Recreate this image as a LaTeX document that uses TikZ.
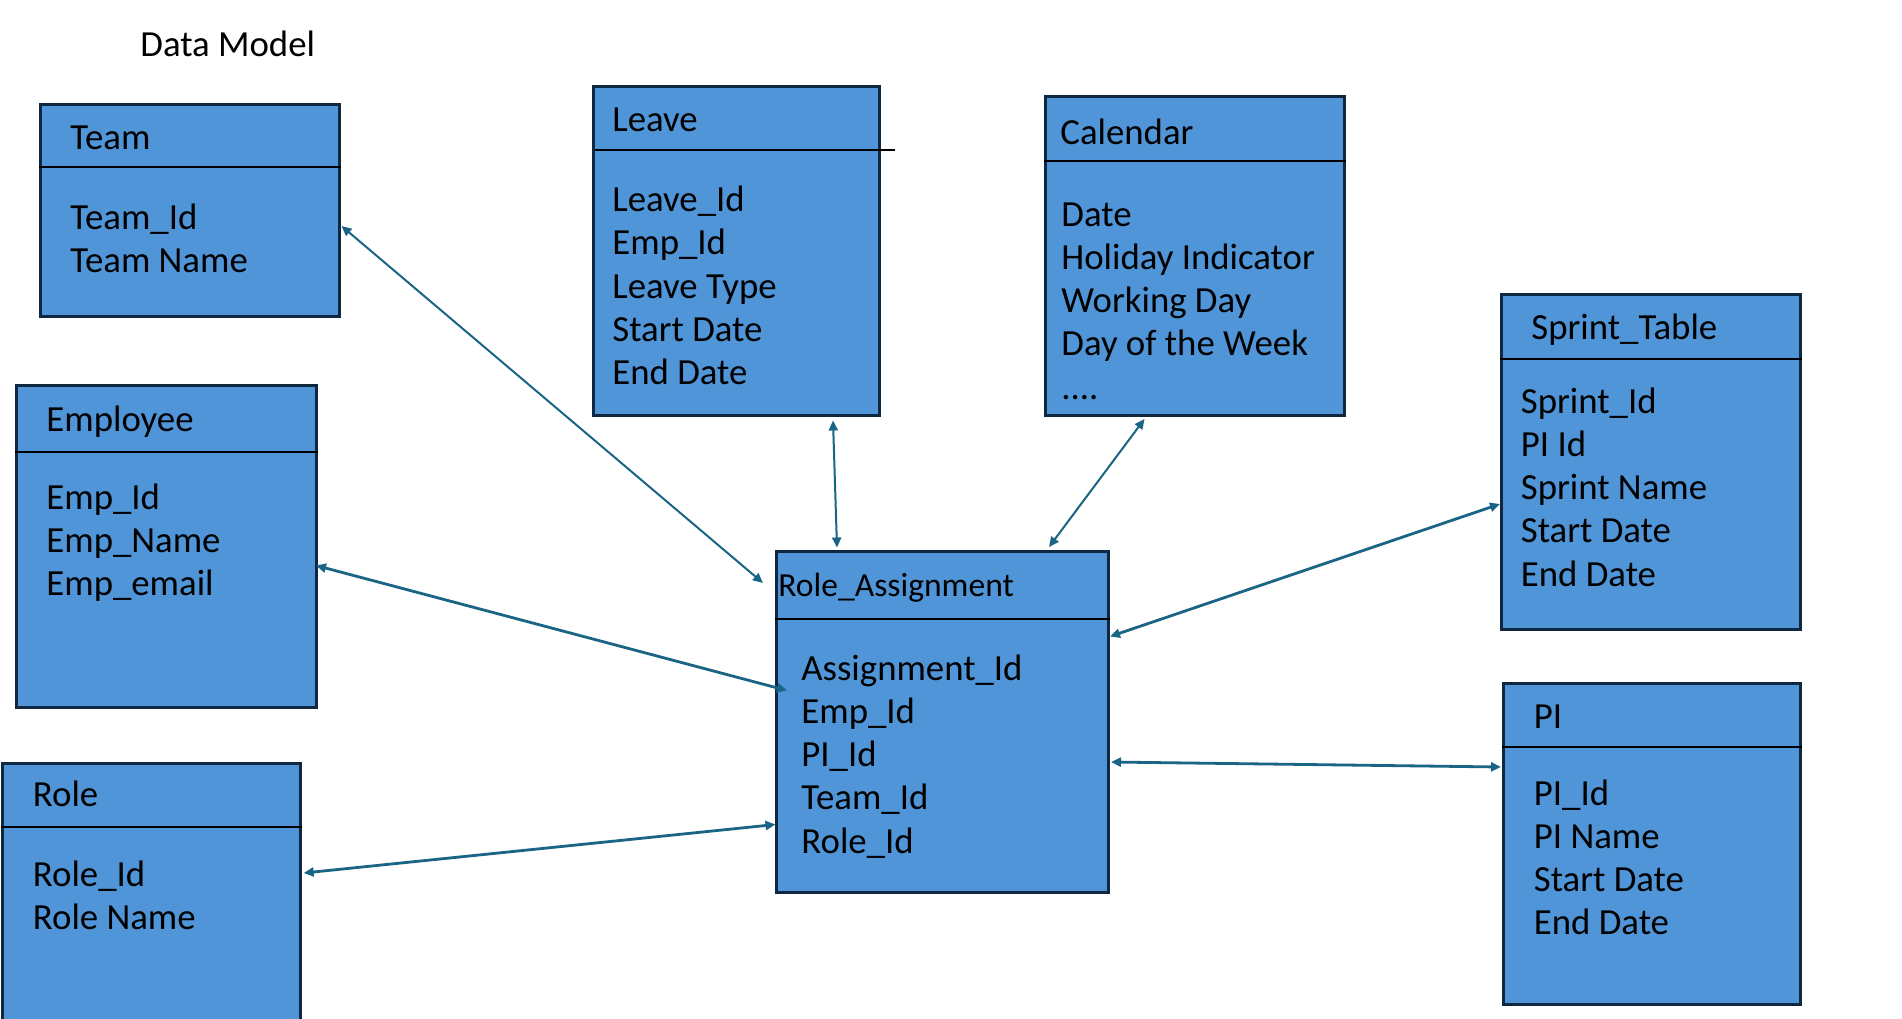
\documentclass[tikz,border=0pt]{standalone}
\usepackage{fontspec}
\setmainfont{Carlito}
\usetikzlibrary{arrows.meta,calc}
\definecolor{boxfill}{HTML}{4F95D8}
\definecolor{boxline}{HTML}{0E2841}
\definecolor{arrowc}{HTML}{1A6485}
\newcommand{\fourdots}{....}
\newcommand{\attrlist}[4]{%
  \foreach \t [count=\i] in {#4} {\node[attr] (#1-\i) at (#2,{#3+43.3*(\i-1)}) {\t};}}
\begin{document}
\begin{tikzpicture}[x=0.5pt,y=-0.5pt,
  tbl/.style={draw=boxline, fill=boxfill, line width=1.5pt, rectangle, inner sep=0pt, anchor=north west},
  divider/.style={draw=black, line width=1.1pt},
  attr/.style={anchor=base west, inner sep=0pt, font=\fontsize{18.4pt}{22pt}\selectfont},
  tabtitle/.style={attr},
  smalltitle/.style={attr, font=\fontsize{16.8pt}{20pt}\selectfont},
  conn/.style={draw=arrowc, line width=1pt, {Triangle[length=5pt,width=4.5pt]}-{Triangle[length=5pt,width=4.5pt]}},
  connthick/.style={conn, line width=1.4pt}]
\useasboundingbox (0,0) rectangle (1902,1018);
\clip (0,0) rectangle (1902,1018);
\fill[white] (0,0) rectangle (1902,1018);

\node[attr] (heading) at (140,56) {Data Model};

% Team
\node[tbl, minimum width=149.5pt, minimum height=106pt] (team) at (39,103) {};
\draw[divider] (team.west |- 0,167) -- (team.east |- 0,167);
\node[tabtitle] (team-t) at (70,149) {Team};
\attrlist{team}{70}{229}{Team\_Id, Team Name}

% Leave
\node[tbl, minimum width=143pt, minimum height=164.25pt] (leave) at (592,85) {};
\draw[divider] ($(leave.north west)+(3,65)$) -- ($(leave.north east)+(13.5,65)$);
\node[tabtitle] (leave-t) at (612,131) {Leave};
\attrlist{leave}{612}{211.5}{Leave\_Id, Emp\_Id, Leave Type, Start Date, End Date}

% Calendar
\node[tbl, minimum width=149.5pt, minimum height=159.5pt] (cal) at (1044,95) {};
\draw[divider] (cal.west |- 0,161) -- (cal.east |- 0,161);
\node[tabtitle] (cal-t) at (1060,144) {Calendar};
\attrlist{cal}{1061}{226}{Date, Holiday Indicator, Working Day, Day of the Week, \fourdots}

% Sprint_Table
\node[tbl, minimum width=149.25pt, minimum height=167.5pt] (sprint) at (1500,293) {};
\draw[divider] (sprint.west |- 0,359) -- (sprint.east |- 0,359);
\node[tabtitle] (sprint-t) at (1531,339) {Sprint\_Table};
\attrlist{sprint}{1520.5}{413}{Sprint\_Id, PI Id, Sprint Name, Start Date, End Date}

% Employee
\node[tbl, minimum width=149.75pt, minimum height=161pt] (emp) at (15,384) {};
\draw[divider] (emp.west |- 0,452) -- (emp.east |- 0,452);
\node[tabtitle] (emp-t) at (46,431) {Employee};
\attrlist{emp}{46}{509}{Emp\_Id, Emp\_Name, Emp\_email}

% Role_Assignment
\node[tbl, minimum width=166pt, minimum height=170.5pt] (ra) at (775,550) {};
\draw[divider] (ra.west |- 0,619) -- (ra.east |- 0,619);
\node[smalltitle] (ra-t) at (778,596) {Role\_Assignment};
\attrlist{ra}{801}{680}{Assignment\_Id, Emp\_Id, PI\_Id, Team\_Id, Role\_Id}

% Role (runs off the bottom edge)
\node[tbl, minimum width=149pt, minimum height=140pt] (role) at (1,762) {};
\draw[divider] (role.west |- 0,827) -- (role.east |- 0,827);
\node[tabtitle] (role-t) at (32.5,806.5) {Role};
\attrlist{role}{32.5}{886.5}{Role\_Id, Role Name}

% PI
\node[tbl, minimum width=148.5pt, minimum height=160.5pt] (pi) at (1502,682) {};
\draw[divider] (pi.west |- 0,747) -- (pi.east |- 0,747);
\node[tabtitle] (pi-t) at (1533.5,728) {PI};
\attrlist{pi}{1533.5}{805}{PI\_Id, PI Name, Start Date, End Date}

% connectors
\draw[conn] ($(team.north east)+(0.5,123)$) -- ($(ra.north west)+(-12,33)$);
\draw[conn] ($(leave.south west)+(241,4)$) -- ($(ra.north west)+(62,-2.5)$);
\draw[conn] ($(cal.south west)+(100.5,2)$) -- ($(ra.north west)+(274,-3)$);
\draw[connthick] ($(sprint.north west)+(0,211)$) -- ($(ra.north east)+(0,86.5)$);
\draw[connthick] ($(emp.north east)+(-1.5,181.5)$) -- ($(ra.north west)+(12,140.5)$);
\draw[connthick] ($(role.north east)+(1.7,111)$) -- ($(ra.north west)+(0.5,274.5)$);
\draw[connthick] ($(ra.north east)+(1,212)$) -- ($(pi.north west)+(-1,85)$);
\end{tikzpicture}
\end{document}
